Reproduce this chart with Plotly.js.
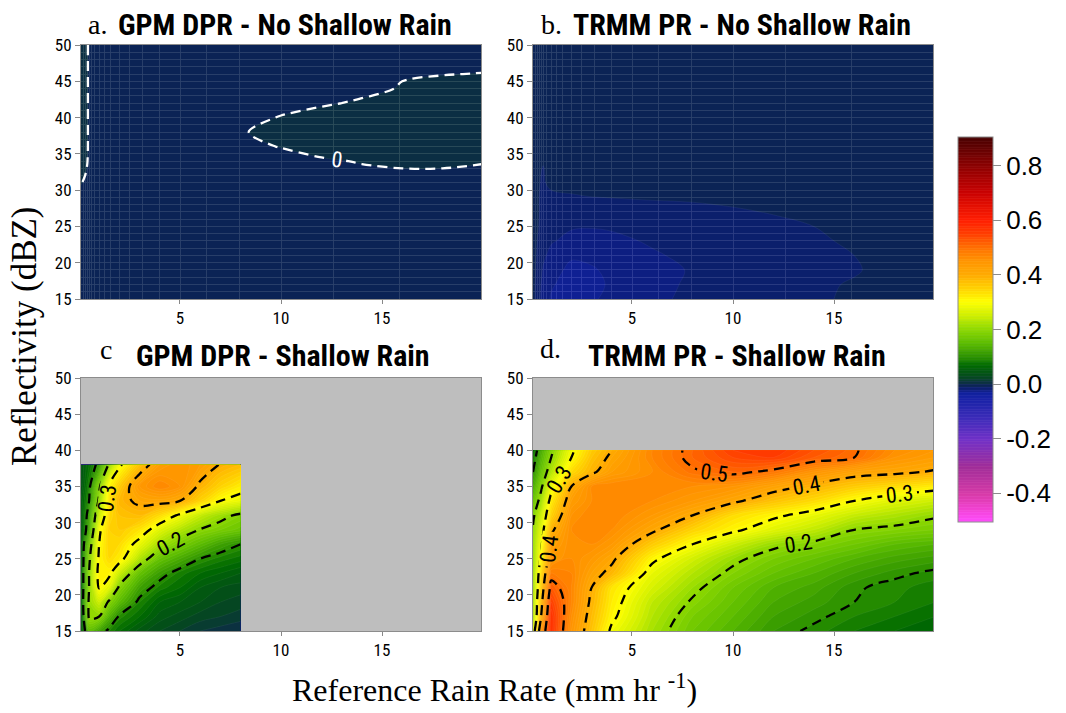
<!DOCTYPE html>
<html><head><meta charset="utf-8">
<script src="https://cdn.plot.ly/plotly-3.0.1.min.js"></script>
<style>html,body{margin:0;padding:0;background:#fff;}</style>
</head><body>
<div id="chart" style="width:1066px;height:713px;"></div>
<script>
// ---------------- data ----------------
const xTicks = [5, 10, 15];
const yTicks = [15, 20, 25, 30, 35, 40, 45, 50];
const cbTicks = [-0.4, -0.2, 0.0, 0.2, 0.4, 0.6, 0.8];
const labeledLevels = [0.1, 0.2, 0.3, 0.4, 0.5];
// rain-rate and reflectivity bins of the underlying data grid (faint grid lines)
const rainGrid = [0.2, 0.3, 0.4, 0.5, 0.63, 0.79, 1, 1.26, 1.58, 2, 2.51, 3.16, 3.98, 5.01, 6.31, 7.94, 10, 12.59, 15.85];
const dbzGrid = [15,16,17,18,19,20,21,22,23,24,25,26,27,28,29,30,31,32,33,34,35,36,37,38,39,40,41,42,43,44,45,46,47,48,49,50];

// colour scale (value -> colour)
const scaleValues = [-0.5, -0.45, -0.4, -0.3, -0.2, -0.12, -0.06, -0.035, -0.025, -0.015, -0.005, 0.005, 0.03, 0.07, 0.1, 0.15, 0.2, 0.25, 0.3, 0.35, 0.4, 0.45, 0.5, 0.55, 0.6, 0.7, 0.8, 0.9];
const scaleColors = ['#ff4dff', '#f040d0', '#d83aa8', '#a02c98', '#7030c8', '#3a2ab8', '#1a22a8', '#1120a0', '#0e1e8c', '#0c1e74', '#0b2258', '#0b3042', '#044a1c', '#006a00', '#2a9000', '#5cbc00', '#8cd800', '#cdee00', '#ffff00', '#ffd200', '#ffaa00', '#ff9400', '#ff6e00', '#ff3c00', '#ff1c00', '#c80000', '#880000', '#480000'];

// a. GPM DPR - No Shallow Rain
const aX = [0.1, 0.4, 0.6, 2, 7, 8, 10, 12, 14, 16, 18, 20];
const aY = [15, 25, 30, 32, 34, 36, 38, 40, 42, 44, 46, 48, 50];
const aZ = [
  [-0.004, -0.006, -0.006, -0.006, -0.006, -0.006, -0.006, -0.006, -0.006, -0.006, -0.006, -0.006],
  [-0.003, -0.006, -0.006, -0.006, -0.006, -0.006, -0.006, -0.006, -0.006, -0.006, -0.006, -0.006],
  [-0.001, -0.004, -0.006, -0.006, -0.006, -0.006, -0.005, -0.004, -0.003, -0.003, -0.003, -0.003],
  [0.002, -0.001, -0.005, -0.006, -0.006, -0.005, -0.004, -0.003, -0.002, -0.001, -0.001, -0.002],
  [0.003, 0.0005, -0.004, -0.006, -0.005, -0.004, -0.003, -0.001, 0.0005, 0.001, 0.001, 0.0005],
  [0.003, 0.001, -0.004, -0.006, -0.004, -0.002, 0.0003, 0.003, 0.004, 0.004, 0.004, 0.004],
  [0.003, 0.001, -0.004, -0.006, -0.003, -0.001, 0.004, 0.005, 0.005, 0.005, 0.005, 0.005],
  [0.003, 0.001, -0.004, -0.006, -0.004, -0.003, 0.0005, 0.003, 0.004, 0.005, 0.005, 0.005],
  [0.003, 0.001, -0.004, -0.006, -0.005, -0.005, -0.003, -0.001, 0.001, 0.003, 0.004, 0.004],
  [0.003, 0.001, -0.004, -0.006, -0.006, -0.006, -0.005, -0.004, -0.002, 0.0005, 0.002, 0.002],
  [0.003, 0.001, -0.004, -0.006, -0.006, -0.006, -0.006, -0.005, -0.004, -0.0005, -0.0002, 0.0002],
  [0.003, 0.001, -0.004, -0.006, -0.006, -0.006, -0.006, -0.006, -0.005, -0.004, -0.003, -0.002],
  [0.003, 0.001, -0.004, -0.006, -0.006, -0.006, -0.006, -0.006, -0.006, -0.005, -0.004, -0.003]
];

// b. TRMM PR - No Shallow Rain
const bX = [0.1, 0.3, 0.6, 1, 2, 3, 4, 6, 8, 10, 12, 14, 16, 18, 20];
const bY = [15, 17, 19, 21, 23, 25, 27, 29, 31, 33, 35, 40, 45, 50];
const bZ = [
  [-0.006, -0.015, -0.025, -0.031, -0.036, -0.031, -0.028, -0.022, -0.018, -0.016, -0.013, -0.011, -0.009, -0.008, -0.007],
  [-0.006, -0.014, -0.023, -0.029, -0.034, -0.032, -0.029, -0.022, -0.019, -0.016, -0.013, -0.011, -0.0095, -0.008, -0.007],
  [-0.006, -0.012, -0.021, -0.027, -0.032, -0.031, -0.028, -0.022, -0.0195, -0.017, -0.014, -0.012, -0.0105, -0.008, -0.007],
  [-0.006, -0.011, -0.018, -0.023, -0.029, -0.028, -0.025, -0.021, -0.018, -0.016, -0.014, -0.012, -0.010, -0.008, -0.007],
  [-0.006, -0.010, -0.015, -0.019, -0.023, -0.023, -0.022, -0.019, -0.016, -0.014, -0.013, -0.011, -0.009, -0.007, -0.006],
  [-0.006, -0.009, -0.013, -0.016, -0.019, -0.0195, -0.019, -0.017, -0.015, -0.013, -0.012, -0.010, -0.008, -0.007, -0.006],
  [-0.006, -0.009, -0.012, -0.014, -0.016, -0.016, -0.015, -0.014, -0.013, -0.011, -0.0095, -0.009, -0.007, -0.006, -0.006],
  [-0.006, -0.009, -0.012, -0.012, -0.011, -0.0102, -0.0098, -0.009, -0.0085, -0.008, -0.007, -0.007, -0.006, -0.006, -0.006],
  [-0.006, -0.009, -0.011, -0.008, -0.007, -0.006, -0.006, -0.006, -0.006, -0.006, -0.006, -0.006, -0.006, -0.006, -0.006],
  [-0.006, -0.008, -0.0105, -0.007, -0.006, -0.006, -0.006, -0.006, -0.006, -0.006, -0.006, -0.006, -0.006, -0.006, -0.006],
  [-0.006, -0.007, -0.008, -0.006, -0.006, -0.006, -0.006, -0.006, -0.006, -0.006, -0.006, -0.006, -0.006, -0.006, -0.006],
  [-0.006, -0.006, -0.006, -0.006, -0.006, -0.006, -0.006, -0.006, -0.006, -0.006, -0.006, -0.006, -0.006, -0.006, -0.006],
  [-0.006, -0.006, -0.006, -0.006, -0.006, -0.006, -0.006, -0.006, -0.006, -0.006, -0.006, -0.006, -0.006, -0.006, -0.006],
  [-0.006, -0.006, -0.006, -0.006, -0.006, -0.006, -0.006, -0.006, -0.006, -0.006, -0.006, -0.006, -0.006, -0.006, -0.006]
];

// c. GPM DPR - Shallow Rain
const cX = [0.1, 0.5, 1, 1.5, 2, 3, 4, 5, 6, 7, 8];
const cY = [15, 17, 19, 21, 23, 25, 27, 29, 31, 33, 35, 38];
const cZ = [
  [0.05, 0.15, 0.12, 0.09, 0.07, 0.045, 0.03, 0.02, 0.01, 0.005, 0.0],
  [0.05, 0.21, 0.20, 0.14, 0.095, 0.07, 0.045, 0.035, 0.025, 0.02, 0.015],
  [0.06, 0.21, 0.25, 0.19, 0.15, 0.09, 0.06, 0.05, 0.04, 0.03, 0.025],
  [0.06, 0.20, 0.305, 0.27, 0.19, 0.12, 0.085, 0.07, 0.05, 0.04, 0.035],
  [0.06, 0.20, 0.32, 0.31, 0.25, 0.16, 0.115, 0.085, 0.07, 0.06, 0.05],
  [0.06, 0.19, 0.31, 0.34, 0.32, 0.23, 0.16, 0.13, 0.10, 0.085, 0.075],
  [0.06, 0.17, 0.30, 0.35, 0.34, 0.28, 0.22, 0.18, 0.15, 0.12, 0.10],
  [0.05, 0.13, 0.29, 0.35, 0.36, 0.33, 0.27, 0.23, 0.198, 0.18, 0.165],
  [0.05, 0.12, 0.25, 0.34, 0.37, 0.38, 0.34, 0.29, 0.245, 0.215, 0.19],
  [0.05, 0.10, 0.21, 0.33, 0.385, 0.41, 0.415, 0.40, 0.35, 0.30, 0.28],
  [0.04, 0.09, 0.19, 0.31, 0.36, 0.44, 0.47, 0.45, 0.39, 0.35, 0.32],
  [0.04, 0.07, 0.115, 0.21, 0.29, 0.37, 0.43, 0.45, 0.43, 0.397, 0.38]
];

// d. TRMM PR - Shallow Rain
const dX = [0.1, 0.5, 1, 2, 3, 4, 6, 8, 10, 12, 14, 16, 18, 20];
const dY = [15, 17, 19, 21, 23, 25, 27, 29, 31, 33, 35, 37, 39, 40];
const dZ = [
  [0.26, 0.45, 0.57, 0.45, 0.37, 0.29, 0.22, 0.17, 0.14, 0.11, 0.095, 0.08, 0.07, 0.06],
  [0.22, 0.40, 0.57, 0.46, 0.38, 0.31, 0.23, 0.18, 0.15, 0.12, 0.105, 0.09, 0.08, 0.07],
  [0.22, 0.38, 0.55, 0.47, 0.39, 0.32, 0.24, 0.195, 0.16, 0.13, 0.115, 0.10, 0.09, 0.08],
  [0.21, 0.36, 0.52, 0.47, 0.40, 0.33, 0.26, 0.21, 0.17, 0.14, 0.125, 0.103, 0.093, 0.085],
  [0.21, 0.34, 0.48, 0.47, 0.42, 0.385, 0.28, 0.23, 0.19, 0.16, 0.14, 0.12, 0.105, 0.095],
  [0.21, 0.31, 0.44, 0.46, 0.44, 0.41, 0.31, 0.255, 0.21, 0.18, 0.16, 0.14, 0.125, 0.115],
  [0.21, 0.29, 0.42, 0.46, 0.46, 0.44, 0.36, 0.30, 0.25, 0.21, 0.19, 0.17, 0.15, 0.14],
  [0.205, 0.27, 0.39, 0.46, 0.47, 0.46, 0.41, 0.35, 0.31, 0.27, 0.24, 0.20, 0.19, 0.18],
  [0.19, 0.25, 0.35, 0.45, 0.47, 0.47, 0.44, 0.40, 0.34, 0.31, 0.28, 0.245, 0.225, 0.205],
  [0.16, 0.22, 0.32, 0.43, 0.46, 0.47, 0.46, 0.44, 0.41, 0.37, 0.34, 0.30, 0.27, 0.25],
  [0.13, 0.19, 0.28, 0.40, 0.46, 0.47, 0.47, 0.46, 0.45, 0.42, 0.39, 0.36, 0.34, 0.32],
  [0.10, 0.16, 0.23, 0.34, 0.39, 0.43, 0.46, 0.495, 0.51, 0.49, 0.45, 0.42, 0.41, 0.395],
  [0.08, 0.14, 0.20, 0.30, 0.37, 0.41, 0.47, 0.51, 0.54, 0.55, 0.52, 0.50, 0.45, 0.43],
  [0.07, 0.13, 0.19, 0.29, 0.36, 0.40, 0.47, 0.51, 0.55, 0.56, 0.53, 0.505, 0.46, 0.44]
];

// ---------------- styling ----------------
const NARROW = '"Liberation Sans Narrow", "Arial Narrow", "Roboto Condensed", "DejaVu Sans Condensed", sans-serif';
const SERIF = '"Liberation Serif", "Times New Roman", "DejaVu Serif", serif';
const SANS = '"Liberation Sans", Arial, sans-serif';
const W = 1066, H = 713;
const px = v => v / W;
const py = v => 1 - v / H;

const cmin = scaleValues[0], cmax = scaleValues[scaleValues.length - 1];
const colorscale = scaleValues.map((v, i) => [(v - cmin) / (cmax - cmin), scaleColors[i]]);

function fillTrace(x, y, z, xa, ya, op) {
  return {
    type: 'contour', x: x, y: y, z: z, xaxis: xa, yaxis: ya,
    coloraxis: 'coloraxis', opacity: op, autocontour: false,
    contours: {coloring: 'fill', start: cmin, end: cmax, size: 0.01, showlines: true},
    line: {width: 0.5, color: 'rgba(255,255,255,0.12)', smoothing: 1},
    hoverinfo: 'skip'
  };
}
function lineTrace(x, y, z, xa, ya, start, end, color) {
  return {
    type: 'contour', x: x, y: y, z: z, xaxis: xa, yaxis: ya,
    showscale: false, autocontour: false,
    contours: {coloring: 'none', start: start, end: end, size: 0.1, showlabels: true,
      labelfont: {family: NARROW, size: 22, color: color}},
    line: {color: color, width: 2.3, dash: '10px,6px', smoothing: 1},
    hoverinfo: 'skip'
  };
}

const data = [
  fillTrace(aX, aY, aZ, 'x', 'y', 0.86),
  lineTrace(aX, aY, aZ, 'x', 'y', 0, 0, '#ffffff'),
  fillTrace(bX, bY, bZ, 'x2', 'y2', 0.86),
  fillTrace(cX, cY, cZ, 'x3', 'y3', 1),
  lineTrace(cX, cY, cZ, 'x3', 'y3', labeledLevels[0], labeledLevels[3], '#000000'),
  fillTrace(dX, dY, dZ, 'x4', 'y4', 1),
  lineTrace(dX, dY, dZ, 'x4', 'y4', labeledLevels[0], labeledLevels[4], '#000000')
];

const colDom = [[px(81), px(481)], [px(533), px(933)]];
const rowDom = [[py(299), py(45)], [py(631), py(378)]];

function xAxis(dom, anchor, grid) {
  const ax = {
    domain: dom, anchor: anchor, range: [0.1, 19.9],
    tickmode: 'array', tickvals: xTicks, ticks: 'outside', ticklen: 4, tickcolor: '#888',
    showgrid: false, zeroline: false, showline: true, mirror: true, linecolor: '#8c8c8c', linewidth: 1,
    tickfont: {family: NARROW, size: 17, color: '#000'}
  };
  if (grid) ax.minor = {tickmode: 'array', tickvals: rainGrid, showgrid: true, gridcolor: 'rgba(255,255,255,0.85)', gridwidth: 1, ticks: ''};
  return ax;
}
function yAxis(dom, anchor, grid) {
  const ax = {
    domain: dom, anchor: anchor, range: [15, 50],
    tickmode: 'array', tickvals: yTicks, ticks: 'outside', ticklen: 5, tickcolor: '#888',
    showgrid: false, zeroline: false, showline: true, mirror: true, linecolor: '#8c8c8c', linewidth: 1,
    tickfont: {family: NARROW, size: 17, color: '#000'}
  };
  if (grid) ax.minor = {tickmode: 'array', tickvals: dbzGrid, showgrid: true, gridcolor: 'rgba(255,255,255,0.85)', gridwidth: 1, ticks: ''};
  return ax;
}

function bgRect(xr, yr, color) {
  return {type: 'rect', xref: xr + ' domain', yref: yr + ' domain', x0: 0, x1: 1, y0: 0, y1: 1,
    fillcolor: color, line: {width: 0}, layer: 'below'};
}

function titleAnn(prefix, prefixX, prefixY, text, textX, textY) {
  return [
    {text: prefix, xref: 'paper', yref: 'paper', x: px(prefixX), y: py(prefixY), xanchor: 'left', yanchor: 'middle',
      showarrow: false, font: {family: SERIF, size: 28, color: '#000'}},
    {text: '<b>' + text + '</b>', xref: 'paper', yref: 'paper', x: px(textX), y: py(textY), xanchor: 'left', yanchor: 'middle',
      showarrow: false, font: {family: NARROW, size: 30, color: '#000'}}
  ];
}

const annotations = [].concat(
  titleAnn('a.', 86, 24, 'GPM DPR - No Shallow Rain', 116, 24),
  titleAnn('b.', 539, 24, 'TRMM PR - No Shallow Rain', 571, 24),
  titleAnn('c', 98, 350, 'GPM DPR - Shallow Rain', 134, 355),
  titleAnn('d.', 538, 348, 'TRMM PR - Shallow Rain', 586, 355),
  [
    {text: 'Reflectivity (dBZ)', xref: 'paper', yref: 'paper', x: px(24), y: py(336), textangle: -90,
      xanchor: 'center', yanchor: 'middle', showarrow: false, font: {family: SERIF, size: 35, color: '#000'}},
    {text: 'Reference Rain Rate (mm hr <sup>-1</sup>)', xref: 'paper', yref: 'paper', x: px(494), y: py(688),
      xanchor: 'center', yanchor: 'middle', showarrow: false, font: {family: SERIF, size: 32, color: '#000'}}
  ]
);

const layout = {
  width: W, height: H,
  margin: {l: 0, r: 0, t: 0, b: 0},
  paper_bgcolor: '#ffffff',
  plot_bgcolor: '#bebebe',
  showlegend: false,
  xaxis: xAxis(colDom[0], 'y', true),
  yaxis: yAxis(rowDom[0], 'x', true),
  xaxis2: xAxis(colDom[1], 'y2', true),
  yaxis2: yAxis(rowDom[0], 'x2', true),
  xaxis3: xAxis(colDom[0], 'y3', false),
  yaxis3: yAxis(rowDom[1], 'x3', false),
  xaxis4: xAxis(colDom[1], 'y4', false),
  yaxis4: yAxis(rowDom[1], 'x4', false),
  coloraxis: {
    cmin: cmin, cmax: cmax, colorscale: colorscale,
    colorbar: {
      x: px(958), xanchor: 'left', xref: 'paper', xpad: 0,
      y: py(329.5), yanchor: 'middle', ypad: 0,
      len: 385, lenmode: 'pixels', thickness: 35, thicknessmode: 'pixels',
      outlinecolor: '#8c8c8c', outlinewidth: 1,
      tickmode: 'array', tickvals: cbTicks, ticktext: cbTicks.map(v => v.toFixed(1)),
      ticks: 'outside', ticklen: 8, tickcolor: '#8c8c8c',
      tickfont: {family: SANS, size: 26, color: '#000'}
    }
  },
  shapes: [bgRect('x', 'y', '#0b2258'), bgRect('x2', 'y2', '#0b2258')],
  annotations: annotations
};

Plotly.newPlot('chart', data, layout, {displayModeBar: false, staticPlot: true});
</script>
</body></html>
